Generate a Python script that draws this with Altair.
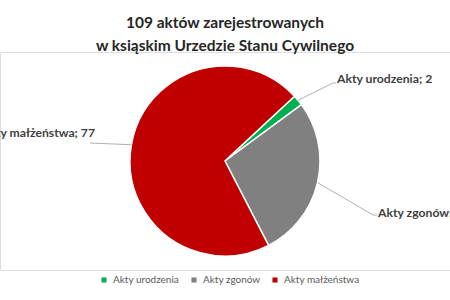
import math
import altair as alt
import pandas as pd

# Values
categories = ["Akty urodzenia", "Akty zgonów", "Akty małżeństwa"]
counts = [2, 30, 77]
colors = ["#00B050", "#808080", "#C00000"]
title_lines = ["109 aktów zarejestrowanych", "w ksiąskim Urzedzie Stanu Cywilnego"]

# Layout / style
W, H = 450, 218
PAD_TOP, PAD_BOTTOM = 52, 30
R = 95
START = math.radians(47)
FONT = "Lato"
TEXT_COLOR = "#404040"
LEADER_COLOR = "#A6A6A6"
# label anchor (dx, dy from pie centre), text alignment, leader-line path ends
label_layout = {
    "Akty urodzenia": {"text": (112, -82), "align": "left", "path": [(108, -78), (111, -78)]},
    "Akty zgonów": {"text": (153, 52), "align": "left", "path": [(148, 54), (152, 54)]},
    "Akty małżeństwa": {"text": (-130, -28), "align": "right", "path": [(-135, -18)]},
}

cx, cy = W / 2, H / 2
total = sum(counts)

df = pd.DataFrame({"kategoria": categories, "liczba": counts, "kolejnosc": range(len(categories))})

# label positions and leader lines from each slice's mid angle
label_rows, line_rows = [], []
cum = 0
for cat, v in zip(categories, counts):
    mid = START + 2 * math.pi * (cum + v / 2) / total
    cum += v
    lay = label_layout[cat]
    tx, ty = lay["text"]
    label_rows.append({"kategoria": cat, "etykieta": f"{cat}; {v}", "x": cx + tx, "y": cy + ty,
                       "align": lay["align"]})
    pts = [(cx + R * math.sin(mid), cy - R * math.cos(mid))] + [(cx + px, cy + py) for px, py in lay["path"]]
    for i, (px, py) in enumerate(pts):
        line_rows.append({"kategoria": cat, "krok": i, "x": px, "y": py})

labels = pd.DataFrame(label_rows)
lines = pd.DataFrame(line_rows)

arc = alt.Chart(df).mark_arc(outerRadius=R, stroke="white", strokeWidth=1.5).encode(
    theta=alt.Theta("liczba:Q", stack=True, scale=alt.Scale(range=[START, START + 2 * math.pi])),
    color=alt.Color(
        "kategoria:N",
        scale=alt.Scale(domain=categories, range=colors),
        legend=alt.Legend(
            title=None, orient="none", legendX=99, legendY=223, direction="horizontal",
            symbolType="square", symbolSize=26, symbolStrokeWidth=0, labelFont=FONT,
            labelFontSize=10, labelColor="#595959", columnPadding=9, labelOffset=4,
        ),
    ),
    order=alt.Order("kolejnosc:Q"),
)

leaders = alt.Chart(lines).mark_line(color=LEADER_COLOR, strokeWidth=0.9).encode(
    x=alt.X("x:Q", scale=None),
    y=alt.Y("y:Q", scale=None),
    detail="kategoria:N",
    order="krok:Q",
)

def text_layer(align):
    return alt.Chart(labels).transform_filter(alt.datum.align == align).mark_text(
        align=align, baseline="middle", font=FONT, fontSize=12.2, fontWeight="bold", color=TEXT_COLOR
    ).encode(x=alt.X("x:Q", scale=None), y=alt.Y("y:Q", scale=None), text="etykieta:N")

chart = alt.layer(arc, leaders, text_layer("left"), text_layer("right")).properties(
    width=W,
    height=H,
    autosize=alt.AutoSizeParams(type="none"),
    padding={"top": PAD_TOP, "bottom": PAD_BOTTOM, "left": 0, "right": 0},
    title=alt.Title(title_lines, font=FONT, fontSize=15.5, fontWeight="bold", color="#262626",
                    anchor="middle", lineHeight=23, offset=0, dy=2),
).configure_view(stroke=None).configure(background="white")

chart.save("out.html", embed_options={"renderer": "svg", "actions": False})
